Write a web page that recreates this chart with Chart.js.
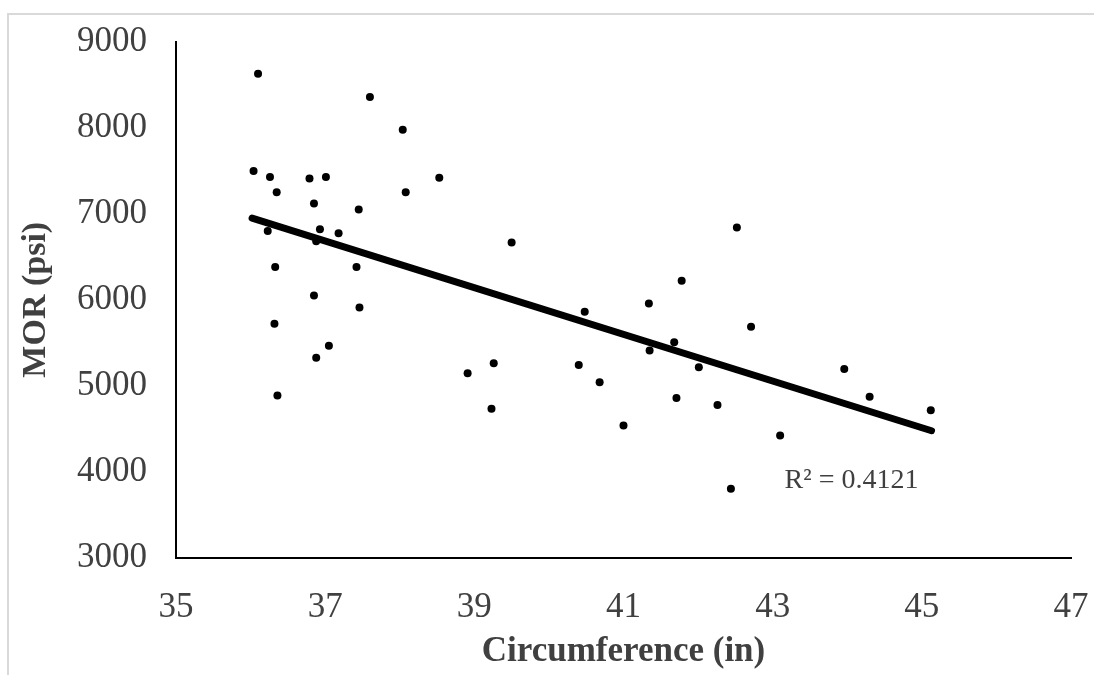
<!DOCTYPE html>
<html>
<head>
<meta charset="utf-8">
<script src="https://cdn.jsdelivr.net/npm/chart.js@4"></script>
<style>
  html, body { margin: 0; padding: 0; background: #fff; }
  #wrap { width: 1094px; height: 675px; position: relative; }
</style>
</head>
<body>
<div id="wrap"><canvas id="myChart" width="1094" height="675"></canvas></div>
<script>
// circumference (in) vs MOR (psi)
const circumference = [36.10, 37.60, 38.04, 36.04, 36.26, 36.79, 37.01, 38.53, 36.35, 38.08,
    36.85, 37.45, 36.23, 36.93, 37.18, 36.88, 36.33, 37.42, 36.85, 37.46,
    36.32, 37.05, 36.88, 36.36, 38.91, 39.50, 41.78, 41.34, 40.48, 41.68,
    41.35, 42.01, 39.26, 40.40, 40.68, 39.23, 41.71, 41.00, 42.26, 42.52,
    42.71, 43.96, 44.30, 45.12, 43.10, 42.44];
const mor = [8630, 8360, 7980, 7500, 7430, 7410, 7430, 7420, 7250, 7250,
    7120, 7050, 6800, 6820, 6775, 6680, 6380, 6380, 6050, 5910,
    5720, 5465, 5325, 4885, 5145, 6665, 6220, 5955, 5860, 5505,
    5410, 5215, 5260, 5240, 5040, 4730, 4855, 4535, 4775, 6840,
    5685, 5195, 4870, 4715, 4420, 3800];

// linear trendline ends
const trendX = [36.02, 45.13];
const trendY = [6950, 4475];
const r2Label = 'R² = 0.4121';

const xTicks = [35, 37, 39, 41, 43, 45, 47];
const yTicks = [3000, 4000, 5000, 6000, 7000, 8000, 9000];

const points = circumference.map((c, i) => ({ x: c, y: mor[i] }));
const trend = trendX.map((t, i) => ({ x: t, y: trendY[i] }));

const serif = "'Liberation Serif', 'Times New Roman', serif";
const textColor = '#404040';

// light gray frame round the picture + the R² note
const extras = {
    id: 'extras',
    beforeDraw(chart) {
        let c = chart.ctx;
        c.save();
        c.strokeStyle = '#d9d9d9';
        c.lineWidth = 2;
        c.beginPath();
        c.moveTo(8, 675);
        c.lineTo(8, 14);
        c.lineTo(1094, 14);
        c.stroke();
        c.restore();
    },
    afterDatasetsDraw(chart) {
        let c = chart.ctx;
        let xs = chart.scales.x, ys = chart.scales.y;
        c.save();
        c.font = "28px " + serif;
        c.fillStyle = textColor;
        c.textAlign = 'left';
        c.textBaseline = 'middle';
        c.fillText(r2Label, xs.getPixelForValue(43.16), ys.getPixelForValue(3900));
        c.restore();
    }
};

const ctx = document.getElementById('myChart').getContext('2d');
let myChart = new Chart(ctx, {
    type: 'scatter',
    data: {
        datasets: [
            { label: 'MOR', data: points, backgroundColor: '#000', borderWidth: 0, pointRadius: 4, pointHoverRadius: 4 },
            { label: 'Linear', data: trend, showLine: true, borderColor: '#000', borderWidth: 7,
              borderCapStyle: 'round', pointRadius: 0, fill: false }
        ]
    },
    options: {
        responsive: false,
        animation: false,
        events: [],
        layout: { padding: { top: 42, right: 23, bottom: 0, left: 0 } },
        plugins: { legend: { display: false }, tooltip: { enabled: false } },
        scales: {
            x: {
                type: 'linear', min: 35, max: 47,
                afterBuildTicks: s => { s.ticks = xTicks.map(v => ({ value: v })); },
                afterFit: s => { s.height = 117.5; s.paddingLeft = 0; s.paddingRight = 0; },
                grid: { display: false, drawTicks: false },
                border: { display: true, color: '#000', width: 2 },
                ticks: { color: textColor, padding: 29, font: { family: serif, size: 35 }, callback: v => String(v) },
                title: { display: true, text: 'Circumference (in)', color: textColor,
                         padding: { top: 0, bottom: 2 }, font: { family: serif, size: 35, weight: 'bold' } }
            },
            y: {
                type: 'linear', min: 3000, max: 9000,
                afterBuildTicks: s => { s.ticks = yTicks.map(v => ({ value: v })); },
                afterFit: s => { s.width = 176; s.paddingTop = 0; s.paddingBottom = 0; },
                grid: { display: false, drawTicks: false },
                border: { display: true, color: '#000', width: 2 },
                ticks: { color: textColor, padding: 29, font: { family: serif, size: 35 }, callback: v => String(v) },
                title: { display: true, text: 'MOR (psi)', color: textColor,
                         padding: { top: 16, bottom: 0 }, font: { family: serif, size: 34, weight: 'bold' } }
            }
        }
    },
    plugins: [extras]
});
</script>
</body>
</html>
